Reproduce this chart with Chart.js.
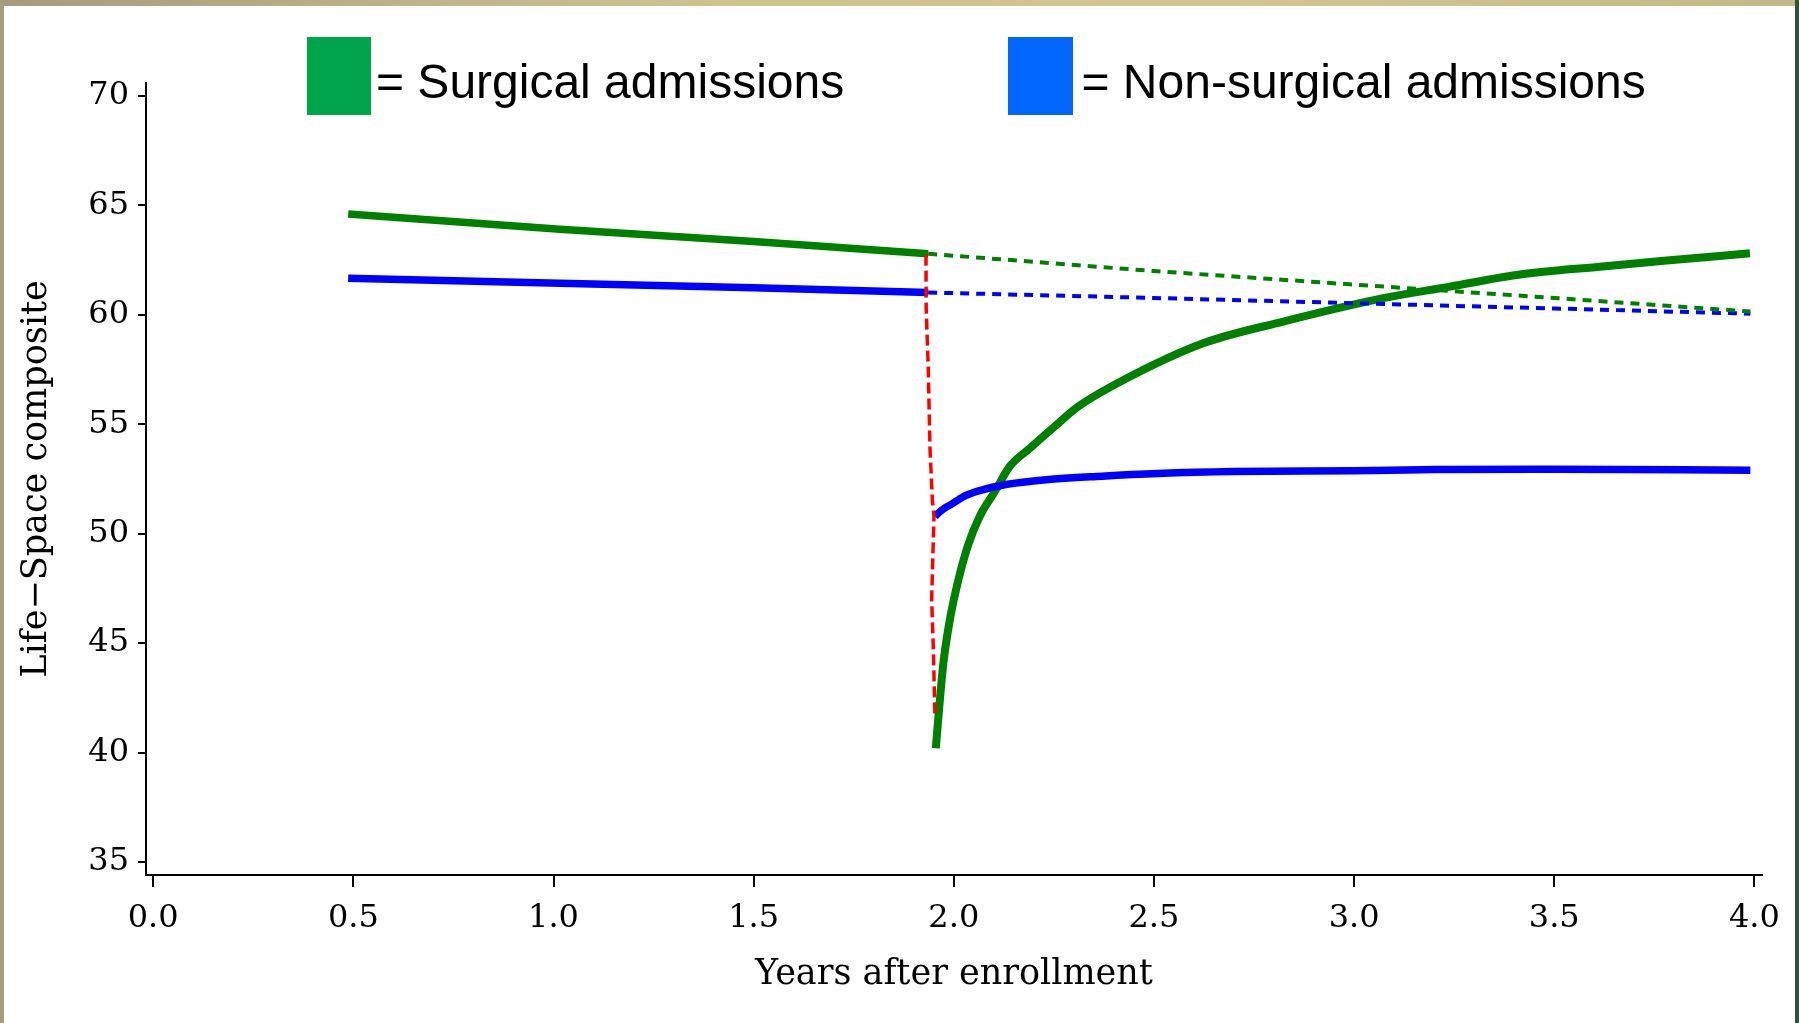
<!DOCTYPE html>
<html><head><meta charset="utf-8">
<script src="https://cdn.jsdelivr.net/npm/chart.js@4.4.1/dist/chart.umd.min.js"></script>
<style>
html,body{margin:0;padding:0;width:1799px;height:1023px;overflow:hidden;background:#2e5233;}
#top{position:absolute;left:0;top:0;width:1795px;height:6px;background:linear-gradient(90deg,#a49c7e 0%,#cfc291 40%,#d2c592 70%,#c4b787 100%);}
#left{position:absolute;left:0;top:0;width:4px;height:1023px;background:#a59e80;}
#panel{position:absolute;left:4px;top:6px;width:1791px;height:1017px;background:#fff;}
#c{position:absolute;left:0;top:0;}
</style></head><body>
<div id="top"></div><div id="left"></div><div id="panel"></div>
<canvas id="c" width="1799" height="1023"></canvas>
<script>
// ---- data ----
const surgPreX = [0.487, 1.016, 1.5, 1.936];
const surgPreY = [64.61, 63.91, 63.35, 62.79];
const nonSurgPreX = [0.487, 1.016, 1.5, 1.936];
const nonSurgPreY = [61.67, 61.44, 61.24, 61.02];

const surgProjX = [1.936, 2.5, 3.0, 3.5, 3.99];
const surgProjY = [62.79, 62.0, 61.38, 60.77, 60.15];
const nonSurgProjX = [1.936, 2.5, 3.0, 3.5, 3.99];
const nonSurgProjY = [61.02, 60.77, 60.53, 60.29, 60.05];

const dropX = [1.9305, 1.931, 1.9363, 1.9405, 1.9463, 1.9505, 1.9447, 1.9488, 1.953];
const dropY = [62.75, 60.3, 57.5, 53.9, 51.6, 50.8, 47.0, 44.8, 41.6];

const surgPostX = [1.955, 1.964, 1.974, 1.99, 2.011, 2.036, 2.065, 2.103, 2.14, 2.19, 2.249, 2.31, 2.432, 2.623, 2.823, 3.073, 3.24, 3.406, 3.614, 3.781, 3.989];
const surgPostY = [40.2, 42.15, 44.1, 46.06, 47.86, 49.5, 50.8, 51.94, 53.08, 53.9, 54.85, 55.8, 57.1, 58.7, 59.69, 60.76, 61.29, 61.82, 62.2, 62.48, 62.81];

const nonSurgPostX = [1.953, 1.965, 1.98, 1.998, 2.03, 2.06, 2.13, 2.23, 2.37, 2.51, 2.7, 3.0, 3.2, 3.5, 3.99];
const nonSurgPostY = [50.8, 51.0, 51.2, 51.39, 51.75, 51.95, 52.25, 52.47, 52.63, 52.75, 52.84, 52.88, 52.93, 52.95, 52.9];

const xTicks = [0, 0.5, 1, 1.5, 2, 2.5, 3, 3.5, 4];
const xTickLabels = ['0.0','0.5','1.0','1.5','2.0','2.5','3.0','3.5','4.0'];
const yTicks = [35, 40, 45, 50, 55, 60, 65, 70];
const yTickLabels = ['35','40','45','50','55','60','65','70'];

const legendLabels = ['= Surgical admissions', '= Non-surgical admissions'];
const legendColors = ['#00a44a', '#0066ff'];

// ---- build ----
const pts = (xs, ys) => xs.map((x, i) => ({x: x, y: ys[i]}));
const serif = '"DejaVu Serif", serif';

const legendPlugin = {
  id: 'topLegend',
  afterDraw(chart) {
    const ctx = chart.ctx;
    ctx.save();
    const boxes = [[307, 37, 64, 78, 376], [1008, 37, 65, 78, 1081.5]];
    boxes.forEach((b, i) => {
      ctx.fillStyle = legendColors[i];
      ctx.fillRect(b[0], b[1], b[2], b[3]);
      ctx.fillStyle = '#000';
      ctx.font = '48px "Liberation Sans", Arial, sans-serif';
      ctx.textBaseline = 'alphabetic';
      ctx.textAlign = 'left';
      ctx.fillText(legendLabels[i], b[4], 97.5);
    });
    ctx.restore();
  }
};

const dashedStyle = (color, w, dash) => ({borderColor: color, borderWidth: w, borderDash: dash, pointRadius: 0, tension: 0, fill: false});

new Chart(document.getElementById('c'), {
  type: 'line',
  data: {
    datasets: [
      Object.assign({label: 'Surgical projected', data: pts(surgProjX, surgProjY)}, dashedStyle('#008000', 4, [9, 7])),
      Object.assign({label: 'Non-surgical projected', data: pts(nonSurgProjX, nonSurgProjY)}, dashedStyle('#0000ff', 4, [9, 7])),
      Object.assign({label: 'Drop', data: pts(dropX, dropY)}, dashedStyle('#ff0000', 3.5, [11, 5])),
      {label: 'Surgical pre', data: pts(surgPreX, surgPreY), borderColor: '#008000', borderWidth: 7.5, pointRadius: 0, tension: 0},
      {label: 'Non-surgical pre', data: pts(nonSurgPreX, nonSurgPreY), borderColor: '#0000ff', borderWidth: 7.5, pointRadius: 0, tension: 0},
      {label: 'Non-surgical post', data: pts(nonSurgPostX, nonSurgPostY), borderColor: '#0000ff', borderWidth: 7.5, pointRadius: 0, cubicInterpolationMode: 'monotone'},
      {label: 'Surgical post', data: pts(surgPostX, surgPostY), borderColor: '#008000', borderWidth: 8, pointRadius: 0, cubicInterpolationMode: 'monotone'}
    ]
  },
  options: {
    responsive: false,
    animation: false,
    devicePixelRatio: 1,
    layout: {padding: {left: 0, top: 83, right: 37, bottom: 0}},
    plugins: {legend: {display: false}, tooltip: {enabled: false}},
    scales: {
      x: {
        type: 'linear', min: -0.018, max: 4.019,
        afterBuildTicks: s => { s.ticks = xTicks.map(v => ({value: v})); },
        afterFit: s => { s.height = 148; s.paddingLeft = 0; s.paddingRight = 0; },
        ticks: {callback: (v, i) => xTickLabels[i], font: {family: serif, size: 32}, color: '#000', padding: 12, maxRotation: 0, autoSkip: false},
        grid: {display: true, drawOnChartArea: false, drawTicks: true, tickLength: 12, color: '#000', lineWidth: 2},
        border: {display: true, color: '#000', width: 2},
        title: {display: true, text: 'Years after enrollment', font: {family: serif, size: 35}, color: '#000', padding: {top: 0, bottom: 27}}
      },
      y: {
        type: 'linear', min: 34.41, max: 70.59,
        afterBuildTicks: s => { s.ticks = yTicks.map(v => ({value: v})); },
        afterFit: s => { s.width = 146; s.paddingTop = 0; s.paddingBottom = 0; },
        ticks: {callback: (v, i) => yTickLabels[i], font: {family: serif, size: 32}, color: '#000', padding: 9, autoSkip: false},
        grid: {display: true, drawOnChartArea: false, drawTicks: true, tickLength: 8, color: '#000', lineWidth: 2},
        border: {display: true, color: '#000', width: 2},
        title: {display: true, text: 'Life\u2212Space composite', font: {family: serif, size: 35}, color: '#000', padding: {top: 16, bottom: 0}}
      }
    }
  },
  plugins: [legendPlugin]
});
</script>
</body></html>
